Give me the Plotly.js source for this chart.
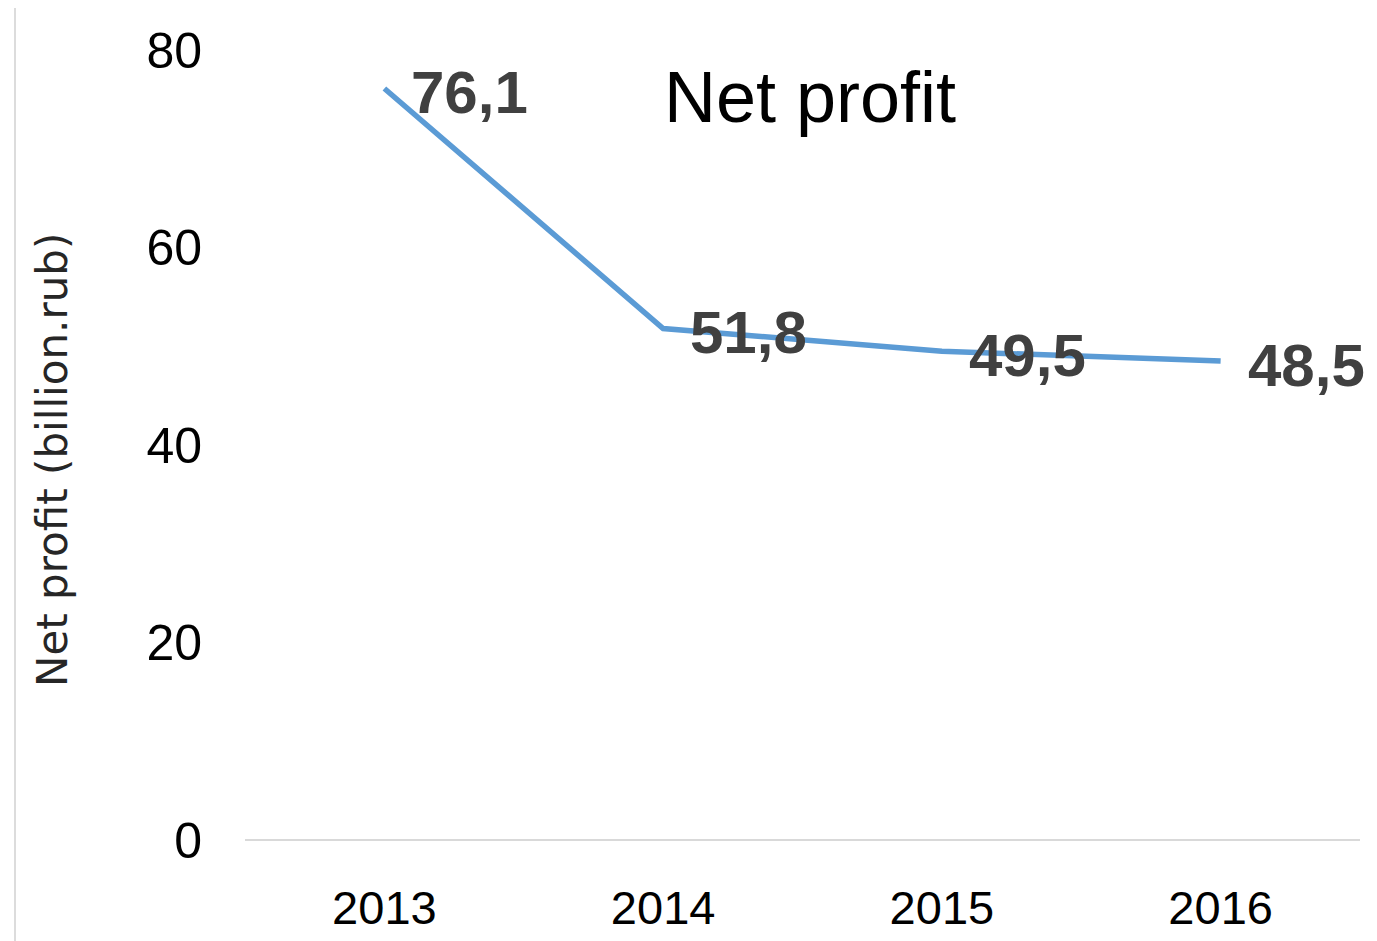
<!DOCTYPE html>
<html>
<head>
<meta charset="utf-8">
<script src="https://cdn.plot.ly/plotly-3.0.1.min.js"></script>
<style>html,body{margin:0;padding:0;background:#fff;}#chart{width:1377px;height:941px;}</style>
</head>
<body>
<div id="chart"></div>
<script>
const years = ["2013", "2014", "2015", "2016"];
const netProfit = [76.1, 51.8, 49.5, 48.5];
const yTicks = [0, 20, 40, 60, 80];
const labels = netProfit.map(v => v.toFixed(1).replace('.', ','));
const yTitle = 'Net profit (billion.rub)';

const sans = '"Liberation Sans Narrow", "Liberation Sans", Arial, sans-serif';

const trace = {
  x: years,
  y: netProfit,
  type: 'scatter',
  mode: 'lines',
  line: {color: '#5B9BD5', width: 5.5},
  hoverinfo: 'skip',
  showlegend: false
};

const annotations = years.map((yr, i) => ({
  x: i, y: netProfit[i], xref: 'x', yref: 'y',
  text: '<b>' + labels[i] + '</b>', showarrow: false,
  xanchor: 'left', yanchor: 'middle',
  xshift: 25, yshift: -4,
  font: {family: sans, size: 60, color: '#404040'}
}));

annotations.push({
  x: (52 - 245) / 1115, y: (840 - 460) / 790, xref: 'paper', yref: 'paper',
  text: yTitle, showarrow: false, textangle: -90,
  xanchor: 'center', yanchor: 'middle',
  font: {family: '"DejaVu Sans", Verdana, sans-serif', size: 42, color: '#262626'}
});

const layout = {
  width: 1377, height: 941,
  margin: {l: 245, r: 17, t: 50, b: 101},
  paper_bgcolor: '#ffffff', plot_bgcolor: '#ffffff',
  title: {
    text: 'Net profit',
    font: {family: sans, size: 72, color: '#000000'},
    x: 810 / 1377, xref: 'container', xanchor: 'center',
    y: 1 - 97 / 941, yref: 'container', yanchor: 'middle'
  },
  xaxis: {
    type: 'category',
    range: [-0.5, 3.5],
    showgrid: false, zeroline: false, showline: false,
    ticks: '',
    tickfont: {family: sans, size: 47, color: '#000000'},
    ticklabelstandoff: 36,
    fixedrange: true
  },
  yaxis: {
    range: [0, 80],
    tickvals: yTicks,
    ticktext: yTicks.map(String),
    showgrid: false,
    zeroline: true, zerolinecolor: '#d9d9d9', zerolinewidth: 2,
    showline: false, ticks: '',
    tickfont: {family: sans, size: 50, color: '#000000'},
    ticklabelstandoff: 42,
    fixedrange: true
  },
  shapes: [{
    type: 'line', xref: 'paper', yref: 'paper',
    x0: (15 - 245) / 1115, x1: (15 - 245) / 1115,
    y0: (840 - 8) / 790, y1: (840 - 945) / 790,
    line: {color: '#d0d0d0', width: 1.5}
  }],
  annotations: annotations
};

Plotly.newPlot('chart', [trace], layout, {displayModeBar: false, staticPlot: true});
</script>
</body>
</html>
